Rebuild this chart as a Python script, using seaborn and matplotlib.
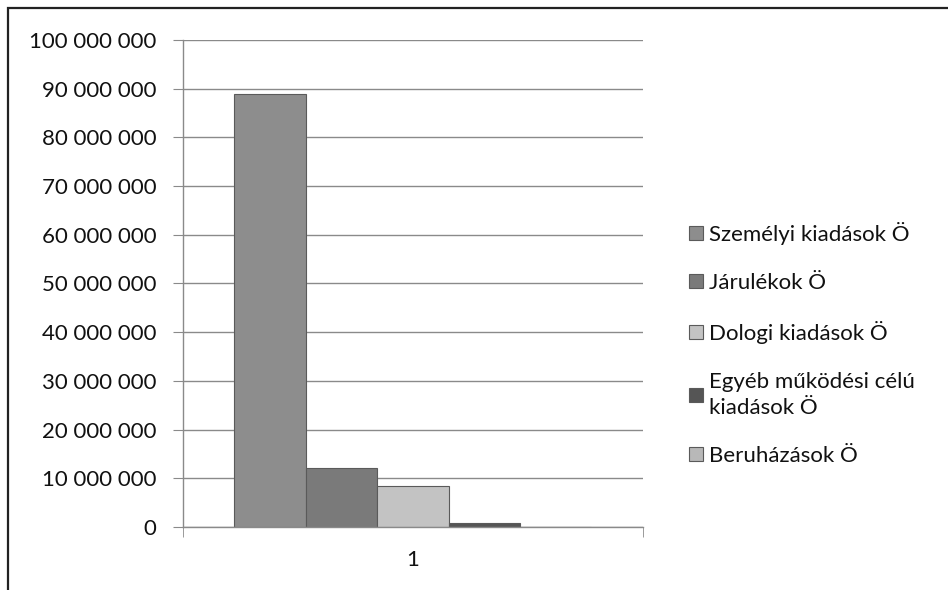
import numpy as np
import pandas as pd
import seaborn as sns
import matplotlib.pyplot as plt
from matplotlib.ticker import FuncFormatter, MultipleLocator
from matplotlib.patches import Rectangle

# data
series = ['Személyi kiadások Ö', 'Járulékok Ö', 'Dologi kiadások Ö',
          'Egyéb működési célú\nkiadások Ö', 'Beruházások Ö']
values = [89000000, 12100000, 8300000, 800000, 0]
category = ['1'] * len(series)
colors = ['#8d8d8d', '#7a7a7a', '#c3c3c3', '#555555', '#b8b8b8']

df = pd.DataFrame({'cat': category, 'series': series, 'value': values})

sns.set_style('white')
plt.rcParams['font.family'] = ['Lato', 'DejaVu Sans']

fig = plt.figure(figsize=(9.48, 5.9), dpi=100)
ax = fig.add_axes([0.193, 0.107, 0.485, 0.825])

sns.barplot(data=df, x='cat', y='value', hue='series', palette=colors,
            width=0.776, dodge=True, ax=ax, edgecolor='#5a5a5a', linewidth=0.8,
            saturation=1, legend=True)

ax.set_xlim(-0.5, 0.5)
ax.set_ylim(0, 100000000)
ax.yaxis.set_major_locator(MultipleLocator(10000000))
ax.yaxis.set_major_formatter(FuncFormatter(lambda v, p: f'{int(v):,}'.replace(',', ' ')))
ax.grid(axis='y', color='#8a8a8a', linewidth=1.0)
ax.set_axisbelow(True)
ax.set_xlabel('')
ax.set_ylabel('')

for s in ['top', 'right']:
    ax.spines[s].set_visible(False)
for s in ['left', 'bottom']:
    ax.spines[s].set_color('#8a8a8a')
    ax.spines[s].set_linewidth(1.0)

ax.tick_params(axis='y', which='major', left=True, length=7, color='#8a8a8a',
               labelsize=16, labelcolor='#111111', pad=12)
ax.tick_params(axis='x', bottom=False, labelsize=16, labelcolor='#111111', pad=13)
# category edge ticks on the x axis
ax.set_xticks([-0.5, 0.5], minor=True)
ax.tick_params(axis='x', which='minor', bottom=True, length=7, color='#8a8a8a')

handles, labels = ax.get_legend_handles_labels()
leg = ax.legend(handles, labels, loc='upper left', bbox_to_anchor=(1.058, 0.668),
                frameon=False, fontsize=16, handlelength=0.6, handleheight=0.6,
                handletextpad=0.3, labelspacing=1.27, labelcolor='#111111')
for t in leg.get_texts():
    t.set_linespacing(1.35)

# scanned page frame
fig.add_artist(Rectangle((0.0085, -0.05), 1.2, 1.037, transform=fig.transFigure,
                         fill=False, edgecolor='#222222', linewidth=1.6))

fig.savefig('out.png', dpi=100)
